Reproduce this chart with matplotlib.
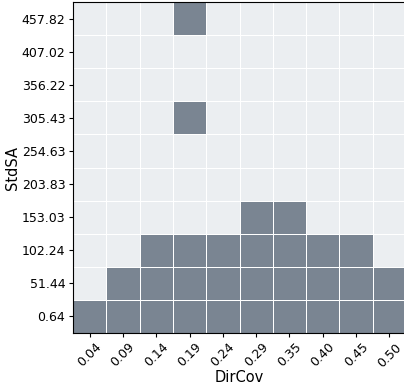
import numpy as np
import matplotlib.pyplot as plt
from matplotlib.colors import ListedColormap

dircov = ['0.04', '0.09', '0.14', '0.19', '0.24', '0.29', '0.35', '0.40', '0.45', '0.50']
stdsa = ['0.64', '51.44', '102.24', '153.03', '203.83', '254.63', '305.43', '356.22', '407.02', '457.82']

# filled cells per DirCov column, counted from the bottom row
col_height = [1, 2, 3, 3, 3, 4, 4, 3, 3, 2]
# isolated cells (column index, row index)
extra_cells = [(3, 6), (3, 9)]

grid = np.zeros((len(stdsa), len(dircov)))
for j, h in enumerate(col_height):
    grid[:h, j] = 1
for j, i in extra_cells:
    grid[i, j] = 1

fig = plt.figure(figsize=(4.04, 3.85), dpi=100)
ax = fig.add_axes([73 / 404, 52 / 385, 333 / 404, 331 / 385])

cmap = ListedColormap(['#ebeef1', '#7a8592'])
ax.pcolormesh(grid, cmap=cmap, vmin=0, vmax=1, edgecolors='white', linewidth=0.6)

ax.set_xticks(np.arange(len(dircov)) + 0.5)
ax.set_xticklabels(dircov, rotation=45, fontsize=9)
ax.set_yticks(np.arange(len(stdsa)) + 0.5)
ax.set_yticklabels(stdsa, fontsize=9)
ax.set_xlim(0, len(dircov))
ax.set_ylim(0, len(stdsa))
ax.set_xlabel('DirCov', fontsize=10.5, labelpad=0)
ax.set_ylabel('StdSA', fontsize=10.5, labelpad=1)
ax.tick_params(length=3, pad=2.5)

fig.savefig('out.png', dpi=100)
